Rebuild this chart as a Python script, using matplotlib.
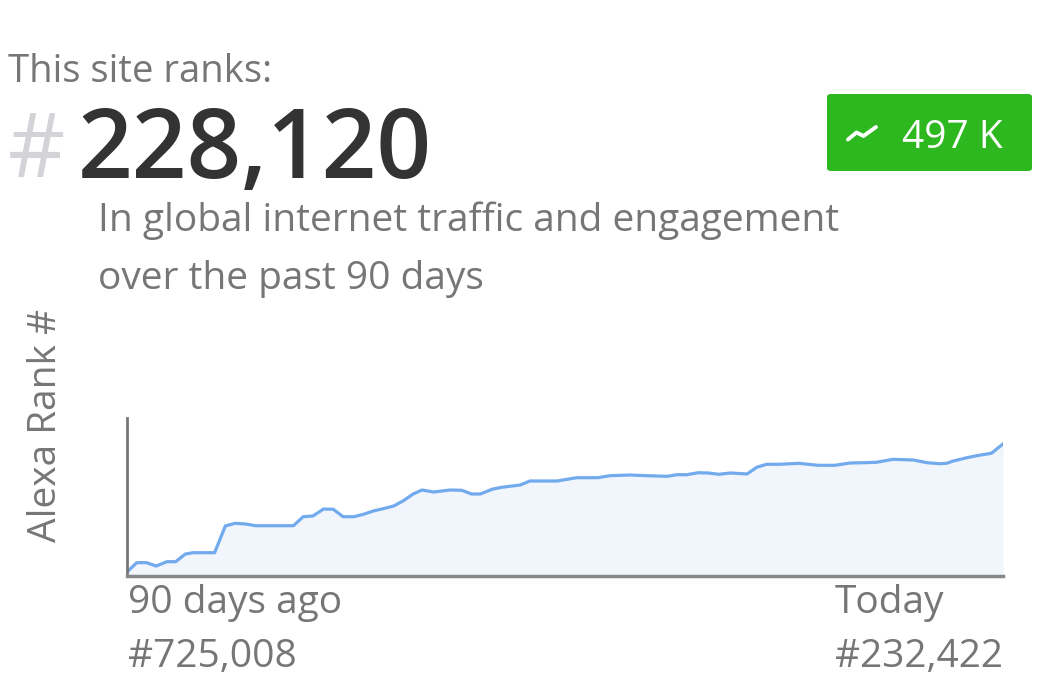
import matplotlib.pyplot as plt
from matplotlib.patches import FancyBboxPatch

# Alexa rank over the past 90 days (day index, rank)
days = [0, 1.0, 2.0, 3.0, 4.1, 5.0, 6.0, 6.8, 9.0, 10.1, 11.1, 12.2, 13.2, 17.1,
        18.1, 19.1, 20.2, 21.2, 22.2, 23.3, 24.3, 25.3, 26.3, 27.4, 28.4, 29.4,
        30.3, 31.5, 33.2, 34.4, 35.4, 36.3, 37.5, 38.5, 40.4, 41.4, 44.2, 46.2,
        48.4, 49.6, 51.7, 53.4, 55.5, 56.5, 57.5, 58.7, 59.7, 60.8, 62.0, 63.7,
        64.7, 65.7, 67.1, 69.0, 71.0, 72.7, 74.3, 75.7, 77.0, 78.7, 80.8, 82.2,
        83.5, 84.2, 84.9, 86.3, 87.3, 88.8, 90]
ranks = [725008, 689000, 689000, 702000, 685300, 685300, 655700, 650700, 650700,
         548000, 537600, 540300, 546800, 546800, 512200, 509500, 482500, 483700,
         512200, 512200, 502900, 490200, 481400, 471000, 450600, 424800, 409400,
         417100, 409400, 410600, 424800, 424800, 406700, 399000, 390200, 374800,
         374800, 362100, 362100, 354400, 351700, 354400, 356700, 350600, 350600,
         342900, 344000, 349000, 344000, 347900, 322100, 310500, 310500, 306700,
         314400, 314400, 305500, 304400, 302800, 291300, 294000, 304400, 308200,
         306700, 297800, 285100, 277400, 268200, 232422]

current_rank = "228,120"
change_label = "497 K"
start_label = "#725,008"
end_label = "#232,422"

plt.rcParams['font.family'] = ['Open Sans', 'DejaVu Sans']

W, H = 1041, 694
fig = plt.figure(figsize=(W / 100, H / 100), dpi=100)
fig.patch.set_facecolor('white')

grey = '#767676'


def ftext(x, y, s, **kw):
    # place text in pixel coords (origin top-left), baseline aligned
    kw.setdefault('va', 'baseline')
    kw.setdefault('ha', 'left')
    return fig.text(x / W, 1 - y / H, s, **kw)


# header texts
ftext(8, 82, "This site ranks:", fontsize=27.5, color=grey)
ftext(8, 177, "#", fontsize=64, color='#d3d3d8')
ftext(78, 178, current_rank, fontsize=69, color='#333333', fontweight='semibold')
ftext(98, 231, "In global internet traffic and engagement", fontsize=28, color=grey)
ftext(98, 289, "over the past 90 days", fontsize=28, color=grey)

# green badge
badge = FancyBboxPatch((827 / W, 1 - 171 / H), 205 / W, 77 / H,
                       boxstyle="round,pad=0,rounding_size=0.004",
                       transform=fig.transFigure, facecolor='#2db81f',
                       edgecolor='none')
fig.patches.append(badge)
ftext(902, 148, change_label, fontsize=28, color='white')
icon_x = [848, 856.5, 863.5, 876]
icon_y = [139.5, 132.5, 136, 127]
fig.add_artist(plt.Line2D([x / W for x in icon_x], [1 - y / H for y in icon_y],
                          transform=fig.transFigure, color='white', lw=2.8,
                          solid_capstyle='round', solid_joinstyle='round'))
fig.add_artist(plt.Polygon([(873 / W, 1 - 123.5 / H), (884.5 / W, 1 - 122 / H),
                            (883 / W, 1 - 133 / H)],
                           closed=True, transform=fig.transFigure,
                           facecolor='white', edgecolor='none'))

# chart
ax = fig.add_axes([127 / W, 1 - 576 / H, (1003 - 127) / W, (576 - 418) / H])
ax.fill_between(days, ranks, 740358, color='#f1f5fc', lw=0)
ax.plot(days, ranks, color='#72aaee', lw=2.3, solid_joinstyle='round')
ax.set_xlim(0, 90)
ax.set_ylim(740358, 132374)
ax.set_xticks([])
ax.set_yticks([])
for s in ['top', 'right']:
    ax.spines[s].set_visible(False)
ax.spines['left'].set_color('#777777')
ax.spines['left'].set_linewidth(2)
ax.spines['bottom'].set_color('#888888')
ax.spines['bottom'].set_linewidth(2.5)

fig.text(46 / W, 1 - 425 / H, "Alexa Rank #", fontsize=28, color=grey,
         ha='center', va='center', rotation=90)
ftext(128, 613, "90 days ago", fontsize=28, color=grey)
ftext(128, 667, start_label, fontsize=28, color=grey)
ftext(835, 613, "Today", fontsize=28, color=grey)
ftext(835, 667, end_label, fontsize=28, color=grey)

fig.savefig('out.png', dpi=100)
